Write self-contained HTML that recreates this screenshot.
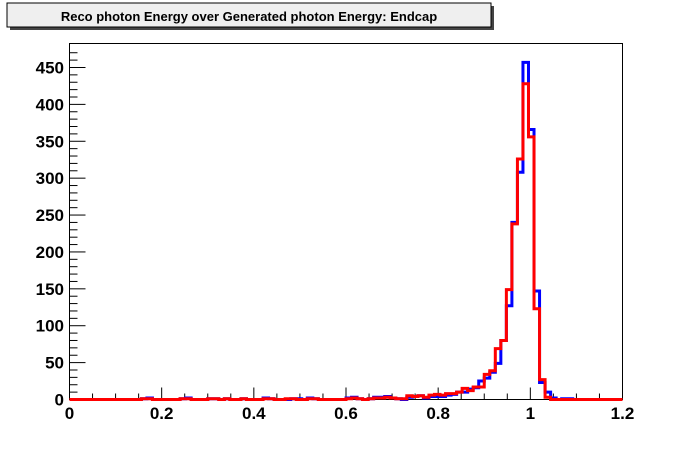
<!DOCTYPE html>
<html><head><meta charset="utf-8"><style>
body{margin:0;background:#fff;width:692px;height:444px;overflow:hidden;font-family:"Liberation Sans",sans-serif}
</style></head><body>
<svg id="c" width="692" height="444" xmlns="http://www.w3.org/2000/svg">
<rect x="0" y="0" width="692" height="444" fill="#fff"/>
<g>
<rect x="10" y="6" width="484" height="24" fill="#444"/>
<rect x="7" y="3" width="484" height="24" fill="#efefef" stroke="#000" stroke-width="1"/>
<text x="249" y="21" text-anchor="middle" font-size="13" font-weight="bold">Reco photon Energy over Generated photon Energy: Endcap</text>
</g>
<rect x="69.5" y="43.5" width="553" height="356" fill="none" stroke="#000" stroke-width="1"/>
<g id="axes"></g>
<g id="series"></g>
</svg>
<script>
const binLow = 0, binWidth = 0.012, nBins = 100;
const blueCounts = [0,0,0,0,0,0,0,0,0,0,0,0,0,1,2,0,0,0,0,0,1,2,0,0,0,1,1,0,1,0,0,1,0,0,0,2,1,0,0,0,1,1,0,2,1,0,0,0,0,0,2,3,1,0,1,3,3,4,2,1,0,3,4,5,2,4,4,4,6,7,10,10,14,16,25,29,37,49,80,127,240,308,457,366,147,23,10,2,0,1,1,0,0,0,0,0,0,0,0,0];
const redCounts  = [0,0,0,0,0,0,0,0,0,0,0,0,0,1,1,0,0,0,0,0,1,1,0,0,0,1,1,0,1,0,0,1,0,0,0,1,1,0,0,1,1,0,0,1,1,0,0,0,0,0,1,2,1,0,1,2,2,3,2,1,1,5,4,5,3,6,7,6,8,8,10,15,12,17,17,34,39,69,80,149,238,326,428,356,123,27,3,0,0,0,0,0,0,0,0,0,0,0,0,0];
const xTicks = [0,0.2,0.4,0.6,0.8,1,1.2];
const yTicks = [0,50,100,150,200,250,300,350,400,450];
const X0=69.5,X1=622.5,Y0=399.5,ppy=0.7378;
const sx=v=>X0+(v-0)/1.2*(X1-X0);
const sy=v=>Y0-v*ppy;
const NS="http://www.w3.org/2000/svg";
const axes=document.getElementById('axes');
function mk(t,a,p){const e=document.createElementNS(NS,t);for(const k in a)e.setAttribute(k,a[k]);p.appendChild(e);return e;}
for(let i=0;i<=24;i++){const v=i*0.05;const big=i%4===0;
 const t=mk('line',{x1:sx(v),x2:sx(v),y1:Y0,y2:Y0-(big?12:6),stroke:'#000','stroke-width':1},axes);
 
 }
xTicks.forEach(v=>{const t=mk('text',{x:sx(v),y:419,'text-anchor':'middle','font-size':17,'font-weight':'bold'},axes);t.textContent=String(v);
 
 });
for(let v=0;v<=475;v+=10){const big=v%50===0;
 const t=mk('line',{x1:X0,x2:X0+(big?16:8),y1:sy(v),y2:sy(v),stroke:'#000','stroke-width':1},axes);
 
 }
yTicks.forEach(v=>{const t=mk('text',{x:64,y:sy(v)+6,'text-anchor':'end','font-size':17,'font-weight':'bold'},axes);t.textContent=String(v);
 
 });
function stepPath(arr){let d='M'+sx(binLow)+','+sy(0);
 for(let i=0;i<nBins;i++){const a=binLow+i*binWidth,b=a+binWidth;d+=' L'+sx(a)+','+sy(arr[i])+' L'+sx(b)+','+sy(arr[i]);}
 return d;}
const s=document.getElementById('series');
const pb=mk('path',{d:stepPath(blueCounts),fill:'none',stroke:'#0000ff','stroke-width':3},s);


const pr=mk('path',{d:stepPath(redCounts),fill:'none',stroke:'#ff0000','stroke-width':3},s);


</script>
</body></html>
